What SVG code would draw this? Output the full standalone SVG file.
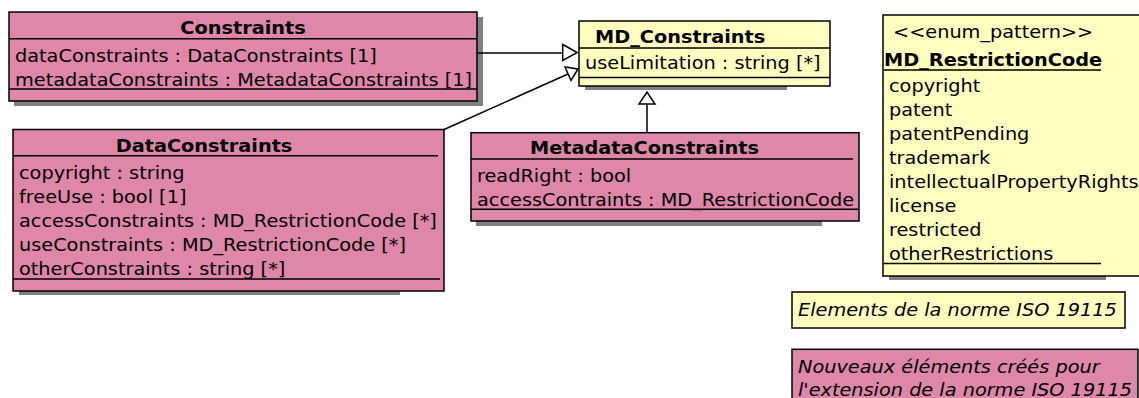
<svg xmlns="http://www.w3.org/2000/svg" width="1139" height="398" viewBox="0 0 1139 398">
<style>
.pink{fill:#de87a8;stroke:#000;stroke-width:1.5}
.yel{fill:#ffffc0;stroke:#000;stroke-width:1.5}
.sh{fill:#808080;stroke:none}
.sep{stroke:#000;stroke-width:1.5;fill:none}
text{font-family:"DejaVu Sans","Liberation Sans",sans-serif;font-size:17px;fill:#000}
.b{font-weight:bold}
.i{font-style:italic}
.mid{text-anchor:middle}
.con{stroke:#000;stroke-width:1.5;fill:none}
.tri{fill:#fff;stroke:#000;stroke-width:1.5}
</style>
<rect width="1139" height="398" fill="#fff"/>

<g id="Constraints">
<rect class="sh" x="14" y="17" width="469" height="89"/>
<rect class="pink" x="9" y="12" width="468" height="89"/>
<line class="sep" x1="9" y1="38.7" x2="477" y2="38.7"/>
<line class="sep" x1="9" y1="89" x2="477" y2="89"/>
<text class="b mid" transform="translate(243,34) scale(1.135,1)">Constraints</text>
<text transform="translate(15,61.5) scale(1.135,1)">dataConstraints : DataConstraints [1]</text>
<text transform="translate(15,85.5) scale(1.135,1)">metadataConstraints : MetadataConstraints [1]</text>
</g>

<g id="MD_Constraints">
<rect class="sh" x="585" y="25" width="202" height="65"/>
<rect class="yel" x="579" y="21" width="251" height="65"/>
<line class="sep" x1="579" y1="48" x2="830" y2="48"/>
<line class="sep" x1="579" y1="77.5" x2="830" y2="77.5"/>
<text class="b" transform="translate(595,43) scale(1.135,1)">MD_Constraints</text>
<text transform="translate(585,68.5) scale(1.135,1)">useLimitation : string [*]</text>
</g>

<g id="MD_RestrictionCode">
<rect class="sh" x="889" y="20" width="217" height="260"/>
<rect class="yel" x="883" y="15" width="270" height="261"/>
<text transform="translate(893,37.5) scale(1.135,1)">&lt;&lt;enum_pattern&gt;&gt;</text>
<text class="b" transform="translate(884,65.5) scale(1.135,1)">MD_RestrictionCode</text>
<line class="sep" x1="884" y1="70" x2="1101" y2="70"/>
<text transform="translate(889,91.5) scale(1.135,1)">copyright</text>
<text transform="translate(889,115.5) scale(1.135,1)">patent</text>
<text transform="translate(889,139.5) scale(1.135,1)">patentPending</text>
<text transform="translate(889,163.5) scale(1.135,1)">trademark</text>
<text transform="translate(889,187.5) scale(1.135,1)">intellectualPropertyRights</text>
<text transform="translate(889,211.5) scale(1.135,1)">license</text>
<text transform="translate(889,235.5) scale(1.135,1)">restricted</text>
<text transform="translate(889,259.5) scale(1.135,1)">otherRestrictions</text>
<line class="sep" x1="884" y1="263.5" x2="1101" y2="263.5"/>
</g>

<g id="DataConstraints">
<rect class="sh" x="19" y="134" width="381" height="161"/>
<rect class="pink" x="13" y="129.5" width="431" height="161.5"/>
<line class="sep" x1="13" y1="155.7" x2="438" y2="155.7"/>
<line class="sep" x1="13" y1="279" x2="440" y2="279"/>
<text class="b" transform="translate(115.7,151.5) scale(1.135,1)">DataConstraints</text>
<text transform="translate(19,178.5) scale(1.135,1)">copyright : string</text>
<text transform="translate(19,202.5) scale(1.135,1)">freeUse : bool [1]</text>
<text transform="translate(19,226.5) scale(1.135,1)">accessConstraints : MD_RestrictionCode [*]</text>
<text transform="translate(19,250.5) scale(1.135,1)">useConstraints : MD_RestrictionCode [*]</text>
<text transform="translate(19,274.5) scale(1.135,1)">otherConstraints : string [*]</text>
</g>

<g id="MetadataConstraints">
<rect class="sh" x="476" y="137" width="346" height="89"/>
<rect class="pink" x="471" y="132.7" width="388" height="88.3"/>
<line class="sep" x1="471" y1="159" x2="853" y2="159"/>
<line class="sep" x1="471" y1="209.3" x2="859" y2="209.3"/>
<text class="b" transform="translate(530,153.5) scale(1.135,1)">MetadataConstraints</text>
<text transform="translate(477,181.5) scale(1.135,1)">readRight : bool</text>
<text transform="translate(477,205.5) scale(1.135,1)">accessContraints : MD_RestrictionCode</text>
</g>

<g id="legend_iso">
<rect class="yel" x="792" y="292" width="333" height="36"/>
<text class="i" transform="translate(798,315.5) scale(1.135,1)">Elements de la norme ISO 19115</text>
</g>

<g id="legend_ext">
<rect class="pink" x="792" y="349.3" width="346" height="60"/>
<text class="i" transform="translate(798,372.5) scale(1.135,1)">Nouveaux éléments créés pour</text>
<text class="i" transform="translate(798,395.5) scale(1.135,1)">l'extension de la norme ISO 19115</text>
</g>

<g id="connectors">
<line class="con" x1="477" y1="53" x2="562.7" y2="53"/>
<polygon class="tri" points="562.7,44.5 577.3,52.5 562.7,60.5"/>
<line class="con" x1="443" y1="130" x2="568" y2="74"/>
<polygon class="tri" points="578,69 565,67 571,80.5"/>
<line class="con" x1="647" y1="132" x2="647" y2="104"/>
<polygon class="tri" points="639,104 647,92 655,104"/>
</g>
</svg>
